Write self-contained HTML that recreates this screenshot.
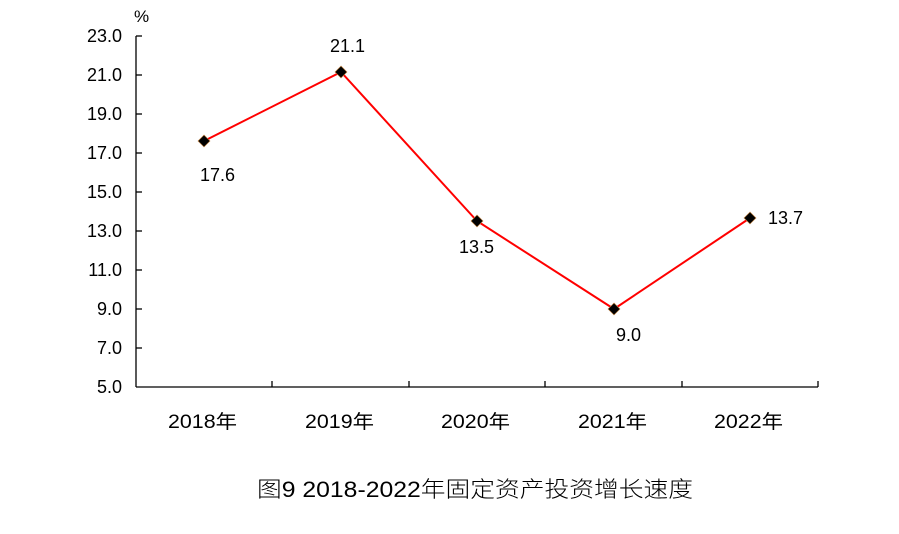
<!DOCTYPE html>
<html><head><meta charset="utf-8"><style>
html,body{margin:0;padding:0;background:#fff;}
svg text{font-family:"Liberation Sans","Noto Sans CJK SC",sans-serif;}
</style></head><body>
<svg width="899" height="529" xmlns="http://www.w3.org/2000/svg">
<g stroke="#000" stroke-width="1.3" fill="none">
<line x1="136" y1="36" x2="136" y2="387"/>
<line x1="136" y1="387" x2="818" y2="387"/>
<line x1="136" y1="36" x2="142" y2="36"/>
<line x1="136" y1="75" x2="142" y2="75"/>
<line x1="136" y1="114" x2="142" y2="114"/>
<line x1="136" y1="153" x2="142" y2="153"/>
<line x1="136" y1="192" x2="142" y2="192"/>
<line x1="136" y1="231" x2="142" y2="231"/>
<line x1="136" y1="270" x2="142" y2="270"/>
<line x1="136" y1="309" x2="142" y2="309"/>
<line x1="136" y1="348" x2="142" y2="348"/>
<line x1="272" y1="381" x2="272" y2="387"/>
<line x1="409" y1="381" x2="409" y2="387"/>
<line x1="545" y1="381" x2="545" y2="387"/>
<line x1="682" y1="381" x2="682" y2="387"/>
<line x1="818" y1="381" x2="818" y2="387"/>
</g>
<g font-size="18" fill="#000" text-anchor="end">
<text x="122" y="42">23.0</text>
<text x="122" y="81">21.0</text>
<text x="122" y="120">19.0</text>
<text x="122" y="159">17.0</text>
<text x="122" y="198">15.0</text>
<text x="122" y="237">13.0</text>
<text x="122" y="276">11.0</text>
<text x="122" y="315">9.0</text>
<text x="122" y="354">7.0</text>
<text x="122" y="393">5.0</text>
</g>
<text x="134" y="22" font-size="17">%</text>
<polyline points="204,141 341,72 477,221 614,309 750,218" stroke="#ff0000" stroke-width="2" fill="none"/>
<g fill="#000" stroke="#c08040" stroke-width="0.6">
<polygon points="204,135 210,141 204,147 198,141"/>
<polygon points="341,66 347,72 341,78 335,72"/>
<polygon points="477,215 483,221 477,227 471,221"/>
<polygon points="614,303 620,309 614,315 608,309"/>
<polygon points="750,212 756,218 750,224 744,218"/>
</g>
<g font-size="18" fill="#000">
<text x="200" y="181">17.6</text>
<text x="330" y="52">21.1</text>
<text x="459" y="253">13.5</text>
<text x="616" y="341">9.0</text>
<text x="768" y="224">13.7</text>
</g>
<g font-size="19" fill="#000">
<text x="168" y="428" textLength="69" lengthAdjust="spacingAndGlyphs">2018年</text>
<text x="305" y="428" textLength="69" lengthAdjust="spacingAndGlyphs">2019年</text>
<text x="441" y="428" textLength="69" lengthAdjust="spacingAndGlyphs">2020年</text>
<text x="578" y="428" textLength="69" lengthAdjust="spacingAndGlyphs">2021年</text>
<text x="714" y="428" textLength="69" lengthAdjust="spacingAndGlyphs">2022年</text>
</g>
<text x="257" y="497" font-size="22" font-weight="300" textLength="436" lengthAdjust="spacingAndGlyphs" font-family="'Noto Sans CJK SC',sans-serif">图9 2018-2022年固定资产投资增长速度</text>
</svg>
</body></html>
